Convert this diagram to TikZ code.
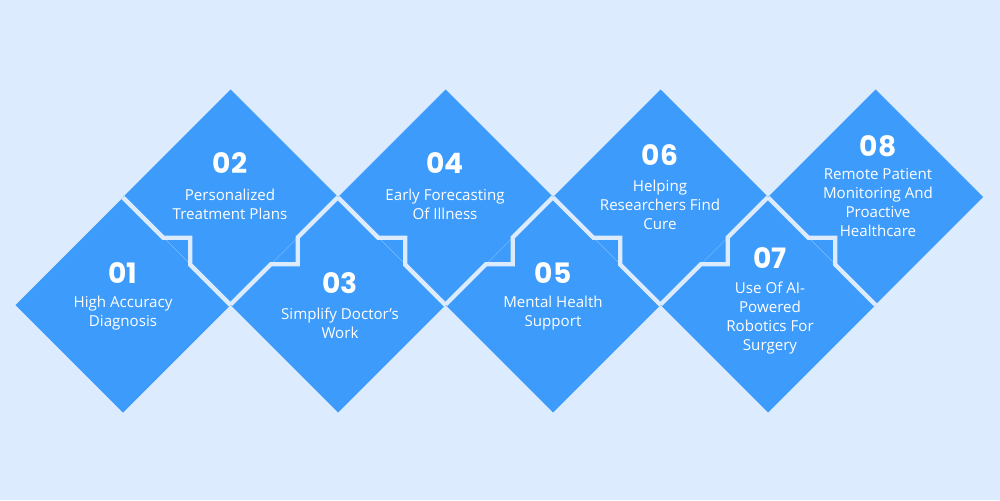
\documentclass[tikz,border=0pt]{standalone}
\usepackage{fontspec}
\setmainfont{Open Sans}
\newfontfamily\numfont{Poppins}[BoldFont=* Bold]
\definecolor{bg}{HTML}{DCEBFD}
\definecolor{blu}{HTML}{3D9BFB}
\begin{document}
\begin{tikzpicture}[x=0.02cm,y=-0.02cm,
  dia/.style={fill=blu},
  sep/.style={draw=bg,line width=0.085cm,line join=miter},
  num/.style={text=white,font=\numfont\bfseries\fontsize{16}{16}\selectfont,inner sep=0},
  lab/.style={text=white,font=\fontsize{8.6}{10.8}\selectfont,align=center,inner sep=0}]
\fill[bg] (0,0) rectangle (1000,500);
\useasboundingbox (0,0) rectangle (1000,500);
\def\h{107.5}
\foreach \i in {1,...,8}{
  \pgfmathsetmacro\cx{123+(\i-1)*107.5}
  \pgfmathsetmacro\cy{isodd(\i)?305:197}
  \coordinate (c\i) at (\cx,\cy);
  \fill[dia] (\cx-\h,\cy) -- (\cx,\cy-\h) -- (\cx+\h,\cy) -- (\cx,\cy+\h) -- cycle;
}
\foreach \i in {1,...,7}{
  \pgfmathsetmacro\cx{123+(\i-1)*107.5}
  \pgfmathsetmacro\cy{isodd(\i)?305:197}
  \pgfmathsetmacro\s{isodd(\i)?1:-1}
  \draw[sep] (\cx,\cy-\s*\h) -- ++(0.375*\h,\s*0.375*\h) -- ++(0.25*\h,0) -- ++(0,\s*0.25*\h) -- (\cx+\h,\cy);
}
\node[num] (n1) at (123,273) {01};
\node[lab] (t1) at (123,313.5) {High Accuracy\\Diagnosis};
\node[num] (n2) at (230,163) {02};
\node[lab] (t2) at (230,204.5) {Personalized\\Treatment Plans};
\node[num] (n3) at (340,283) {03};
\node[lab] (t3) at (340,323.5) {Simplify Doctor's\\Work};
\node[num] (n4) at (445,163) {04};
\node[lab] (t4) at (445,204.5) {Early Forecasting\\Of Illness};
\node[num] (n5) at (553,273) {05};
\node[lab] (t5) at (553,313.5) {Mental Health\\Support};
\node[num] (n6) at (660,155) {06};
\node[lab] (t6) at (660,205) {Helping\\Researchers Find\\Cure};
\node[num] (n7) at (770,258) {07};
\node[lab] (t7) at (770,318) {Use Of AI-\\Powered\\Robotics For\\Surgery};
\node[num] (n8) at (878,146) {08};
\node[lab] (t8) at (878,202.5) {Remote Patient\\Monitoring And\\Proactive\\Healthcare};
\end{tikzpicture}
\end{document}
